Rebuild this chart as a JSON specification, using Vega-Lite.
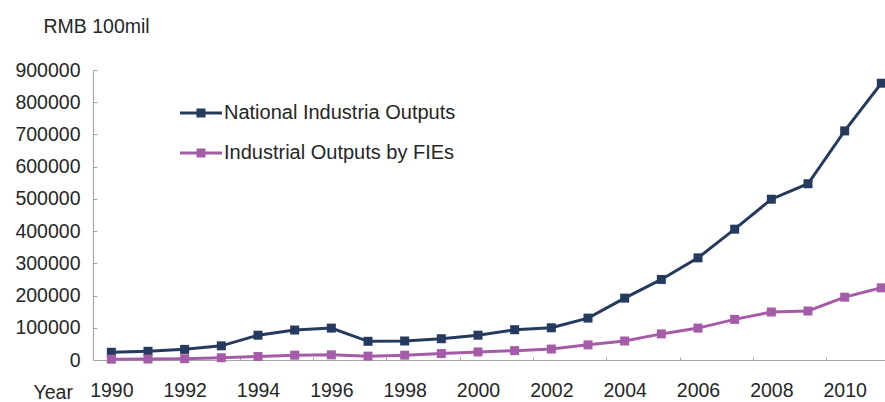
{
  "$schema": "https://vega.github.io/schema/vega-lite/v6.json",
  "width": 792,
  "height": 290,
  "autosize": {"type": "none"},
  "padding": {"left": 93, "top": 70, "right": 0, "bottom": 42},
  "background": "white",
  "config": {
    "view": {"stroke": null},
    "font": "Liberation Sans",
    "axis": {"labelFont": "Liberation Sans", "titleFont": "Liberation Sans", "labelColor": "#262626", "titleColor": "#262626", "domainColor": "#a6a6a6", "tickColor": "#a6a6a6", "grid": false}
  },
  "data": {
    "values": [
      {"year": 1990, "series": "National Industria Outputs", "value": 24000},
      {"year": 1991, "series": "National Industria Outputs", "value": 27000},
      {"year": 1992, "series": "National Industria Outputs", "value": 33000},
      {"year": 1993, "series": "National Industria Outputs", "value": 44000},
      {"year": 1994, "series": "National Industria Outputs", "value": 77000},
      {"year": 1995, "series": "National Industria Outputs", "value": 93000},
      {"year": 1996, "series": "National Industria Outputs", "value": 99000},
      {"year": 1997, "series": "National Industria Outputs", "value": 58000},
      {"year": 1998, "series": "National Industria Outputs", "value": 59000},
      {"year": 1999, "series": "National Industria Outputs", "value": 66000},
      {"year": 2000, "series": "National Industria Outputs", "value": 77000},
      {"year": 2001, "series": "National Industria Outputs", "value": 94000},
      {"year": 2002, "series": "National Industria Outputs", "value": 100000},
      {"year": 2003, "series": "National Industria Outputs", "value": 130000},
      {"year": 2004, "series": "National Industria Outputs", "value": 192000},
      {"year": 2005, "series": "National Industria Outputs", "value": 250000},
      {"year": 2006, "series": "National Industria Outputs", "value": 317000},
      {"year": 2007, "series": "National Industria Outputs", "value": 406000},
      {"year": 2008, "series": "National Industria Outputs", "value": 499000},
      {"year": 2009, "series": "National Industria Outputs", "value": 547000},
      {"year": 2010, "series": "National Industria Outputs", "value": 711000},
      {"year": 2011, "series": "National Industria Outputs", "value": 859000},
      {"year": 1990, "series": "Industrial Outputs by FIEs", "value": 2500},
      {"year": 1991, "series": "Industrial Outputs by FIEs", "value": 3000},
      {"year": 1992, "series": "Industrial Outputs by FIEs", "value": 4000},
      {"year": 1993, "series": "Industrial Outputs by FIEs", "value": 7000},
      {"year": 1994, "series": "Industrial Outputs by FIEs", "value": 11000},
      {"year": 1995, "series": "Industrial Outputs by FIEs", "value": 15000},
      {"year": 1996, "series": "Industrial Outputs by FIEs", "value": 16000},
      {"year": 1997, "series": "Industrial Outputs by FIEs", "value": 12000},
      {"year": 1998, "series": "Industrial Outputs by FIEs", "value": 15000},
      {"year": 1999, "series": "Industrial Outputs by FIEs", "value": 20000},
      {"year": 2000, "series": "Industrial Outputs by FIEs", "value": 25000},
      {"year": 2001, "series": "Industrial Outputs by FIEs", "value": 29000},
      {"year": 2002, "series": "Industrial Outputs by FIEs", "value": 34000},
      {"year": 2003, "series": "Industrial Outputs by FIEs", "value": 47000},
      {"year": 2004, "series": "Industrial Outputs by FIEs", "value": 59000},
      {"year": 2005, "series": "Industrial Outputs by FIEs", "value": 81000},
      {"year": 2006, "series": "Industrial Outputs by FIEs", "value": 99000},
      {"year": 2007, "series": "Industrial Outputs by FIEs", "value": 126000},
      {"year": 2008, "series": "Industrial Outputs by FIEs", "value": 149000},
      {"year": 2009, "series": "Industrial Outputs by FIEs", "value": 152000},
      {"year": 2010, "series": "Industrial Outputs by FIEs", "value": 195000},
      {"year": 2011, "series": "Industrial Outputs by FIEs", "value": 224000}
    ]
  },
  "mark": {
    "type": "line",
    "strokeWidth": 3,
    "clip": false,
    "point": {"shape": "square", "size": 81, "filled": true, "opacity": 1}
  },
  "encoding": {
    "x": {
      "field": "year",
      "type": "quantitative",
      "scale": {"domain": [1989.5, 2011.1], "nice": false, "zero": false},
      "axis": {
        "values": [1990, 1992, 1994, 1996, 1998, 2000, 2002, 2004, 2006, 2008, 2010],
        "format": "d",
        "tickOffset": 55,
        "labelOffset": -55,
        "tickSize": -3,
        "labelPadding": 24,
        "labelFontSize": 19.5,
        "labelFlush": false,
        "labelOverlap": false,
        "domainWidth": 1.2,
        "title": "Year",
        "titleFontSize": 19.5,
        "titleFontWeight": "normal",
        "titleAlign": "left",
        "titleBaseline": "alphabetic",
        "titleAnchor": null,
        "titleX": -60,
        "titleY": 38
      }
    },
    "y": {
      "field": "value",
      "type": "quantitative",
      "scale": {"domain": [0, 900000], "nice": false},
      "axis": {
        "values": [0, 100000, 200000, 300000, 400000, 500000, 600000, 700000, 800000, 900000],
        "format": "d",
        "tickSize": -4,
        "labelPadding": 17,
        "labelFontSize": 19.5,
        "domainWidth": 1.2,
        "title": "RMB 100mil",
        "titleFontSize": 19.5,
        "titleFontWeight": "normal",
        "titleAngle": 0,
        "titleAlign": "left",
        "titleBaseline": "alphabetic",
        "titleAnchor": null,
        "titleX": -50,
        "titleY": -38
      }
    },
    "color": {
      "field": "series",
      "type": "nominal",
      "sort": null,
      "scale": {
        "domain": ["National Industria Outputs", "Industrial Outputs by FIEs"],
        "range": ["#243a5f", "#a55ca8"]
      },
      "legend": {
        "title": null,
        "orient": "none",
        "legendX": 98,
        "legendY": 33,
        "padding": 0,
        "rowPadding": 20,
        "symbolType": "M-2.1,-0.15H2.1V0.15H-2.1Z M-0.45,-0.45H0.45V0.45H-0.45Z",
        "symbolSize": 400,
        "symbolStrokeWidth": 0,
        "labelOffset": 13,
        "labelFontSize": 20,
        "labelColor": "#262626",
        "labelFont": "Liberation Sans",
        "labelLimit": 400,
        "encode": {
          "symbols": {
            "update": {
              "fill": {"scale": "color", "field": "value"},
              "stroke": {"value": "transparent"},
              "opacity": {"value": 1}
            }
          }
        }
      }
    }
  }
}
